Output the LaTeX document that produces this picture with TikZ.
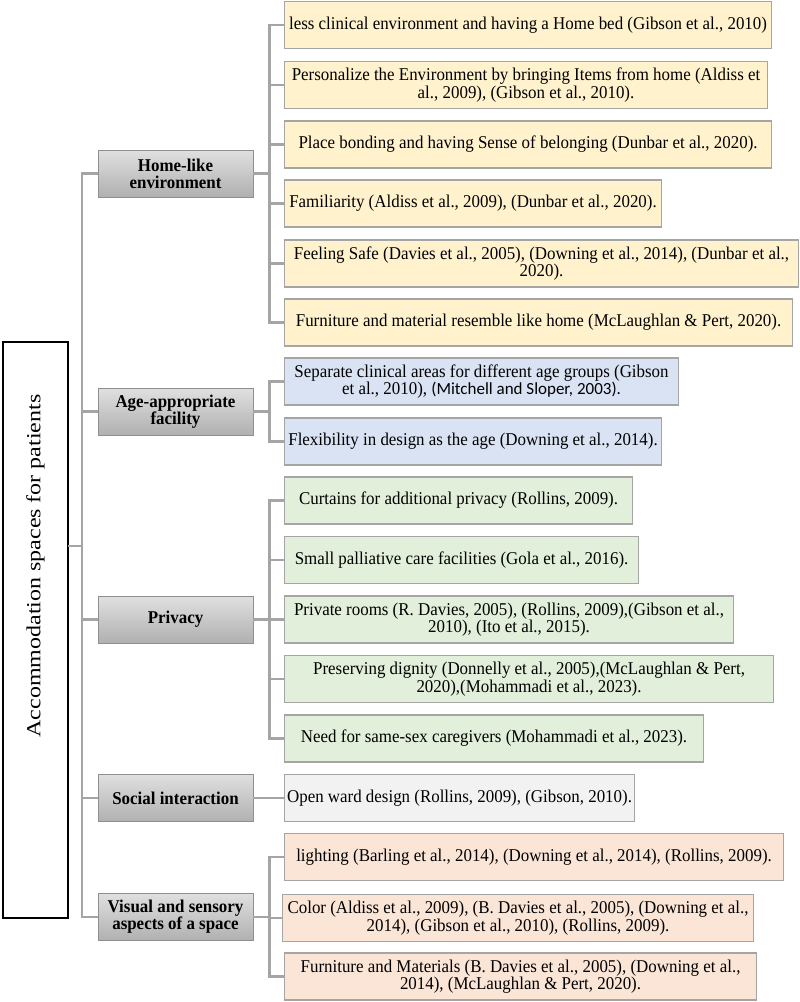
\documentclass[tikz,border=0pt]{standalone}
\usepackage{fontspec}
\setmainfont{Liberation Serif}[FakeStretch = 0.94]
\newfontfamily\rootfont{Liberation Serif}
\newfontfamily\carlito{Carlito}
\definecolor{homefill}{HTML}{FFF2CC}
\definecolor{agefill}{HTML}{DAE3F3}
\definecolor{privfill}{HTML}{E2EFDA}
\definecolor{socfill}{HTML}{F2F2F2}
\definecolor{visfill}{HTML}{FBE5D6}
\definecolor{linegray}{HTML}{A5A5A5}
\definecolor{boxline}{HTML}{8F8F8F}
\definecolor{cattop}{HTML}{E0E0E0}
\definecolor{catbot}{HTML}{B0B0B0}

\begin{document}
\begin{tikzpicture}[x = 1pt, y = -1pt,
    link/.style = {draw = linegray, line width = 2.2pt},
    catbox/.style = {draw = boxline, line width = 0.9pt, top color = cattop, bottom color = catbot,
        minimum width = 155, minimum height = 47, inner sep = 1pt, align = center,
        font = \fontsize{18}{16.8}\selectfont\bfseries},
    leafbox/.style = {draw = linegray, line width = 1.1pt, minimum height = 47, inner sep = 1pt,
        anchor = west, align = center, font = \fontsize{18}{17.4}\selectfont}]
    \useasboundingbox (0,0) rectangle (800,1002);
    \node[draw, line width = 1.5pt, minimum width = 65, minimum height = 576, inner sep = 0pt] (ROOT) at (35.5,630) {};
    \node[rotate = 90, inner sep = 0pt, font = \fontsize{20}{24}\rootfont] (ROOTTXT) at (35.5,566) {\scalebox{1.2}[1]{Accommodation spaces for patients}};
    \coordinate (ROOTOUT) at (68,546);
    \node[catbox] (HOME) at (175.5,173.5) {Home-like\\environment};
    \node[catbox] (AGE) at (175.5,411.5) {Age-appropriate\\facility};
    \node[catbox] (PRIV) at (175.5,619.5) {Privacy};
    \node[catbox] (SOC) at (175.5,798) {Social interaction};
    \node[catbox] (VIS) at (175.5,917) {Visual and sensory\\aspects of a space};
    \node[leafbox, fill = homefill, minimum width = 487] (H1) at (284,25) {less clinical environment and having a Home bed (Gibson et al., 2010)};
    \node[leafbox, fill = homefill, minimum width = 483] (H2) at (284,85) {Personalize the Environment by bringing Items from home (Aldiss et\\al., 2009), (Gibson et al., 2010).};
    \node[leafbox, fill = homefill, minimum width = 487] (H3) at (284,144.5) {Place bonding and having Sense of belonging (Dunbar et al., 2020).};
    \node[leafbox, fill = homefill, minimum width = 377] (H4) at (284,203.5) {Familiarity (Aldiss et al., 2009), (Dunbar et al., 2020).};
    \node[leafbox, fill = homefill, minimum width = 514] (H5) at (284,263.5) {Feeling Safe (Davies et al., 2005), (Downing et al., 2014),\ (Dunbar et al.,\\2020).};
    \node[leafbox, fill = homefill, minimum width = 508] (H6) at (284,322.5) {Furniture and material resemble like home (McLaughlan \& Pert, 2020).};
    \node[leafbox, fill = agefill, minimum width = 394] (A1) at (284,381.5) {Separate clinical areas for different age groups (Gibson\\et al., 2010), {\carlito\fontsize{17}{17.4}\selectfont(Mitchell and Sloper, 2003).}};
    \node[leafbox, fill = agefill, minimum width = 377] (A2) at (284,441.5) {Flexibility in design as the age (Downing et al., 2014).};
    \node[leafbox, fill = privfill, minimum width = 348] (P1) at (284,500.5) {Curtains for additional privacy (Rollins, 2009).};
    \node[leafbox, fill = privfill, minimum width = 354] (P2) at (284,560) {Small palliative care facilities (Gola et al., 2016).};
    \node[leafbox, fill = privfill, minimum width = 449] (P3) at (284,619.5) {Private rooms (R. Davies, 2005), (Rollins, 2009),(Gibson et al.,\\2010), (Ito et al., 2015).};
    \node[leafbox, fill = privfill, minimum width = 489] (P4) at (284,679) {Preserving dignity (Donnelly et al., 2005),(McLaughlan \& Pert,\\2020),(Mohammadi et al., 2023).};
    \node[leafbox, fill = privfill, minimum width = 419] (P5) at (284,738.5) {Need for same-sex caregivers (Mohammadi et al., 2023).};
    \node[leafbox, fill = socfill, minimum width = 350] (S1) at (284,798) {Open ward design (Rollins, 2009), (Gibson, 2010).};
    \node[leafbox, fill = visfill, minimum width = 499] (V1) at (284,857) {lighting (Barling et al., 2014), (Downing et al., 2014), (Rollins, 2009).};
    \node[leafbox, fill = visfill, minimum width = 471] (V2) at (282,918) {Color (Aldiss et al., 2009), (B. Davies et al., 2005), (Downing et al.,\\2014), (Gibson et al., 2010), (Rollins, 2009).};
    \node[leafbox, fill = visfill, minimum width = 472] (V3) at (284,976.5) {Furniture and Materials (B. Davies et al., 2005), (Downing et al.,\\2014), (McLaughlan \& Pert, 2020).};
    \foreach \c in {HOME, AGE, PRIV, SOC, VIS}
        \draw[link] (ROOTOUT) -- ++(14,0) |- (\c.west);
    \foreach \l in {H1, H2, H3, H4, H5, H6}
        \draw[link] (HOME.east) -- ++(16,0) |- (\l.west);
    \foreach \l in {A1, A2}
        \draw[link] (AGE.east) -- ++(16,0) |- (\l.west);
    \foreach \l in {P1, P2, P3, P4, P5}
        \draw[link] (PRIV.east) -- ++(16,0) |- (\l.west);
    \draw[link] (SOC.east) -- (S1.west);
    \foreach \l in {V1, V2, V3}
        \draw[link] (VIS.east) -- ++(16,0) |- (\l.west);
\end{tikzpicture}
\end{document}
